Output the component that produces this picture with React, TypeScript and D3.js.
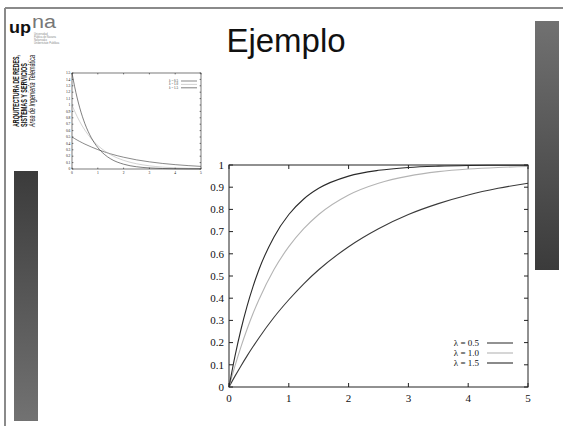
import { useEffect, useRef } from "react";
import * as d3 from "d3";

// values
const xSamples = [0, 0.1, 0.2, 0.3, 0.4, 0.5, 0.75, 1, 1.25, 1.5, 2, 2.5, 3, 3.5, 4, 4.5, 5];

// main chart (distribution curves)
const cdf05 = [0, 0.049, 0.095, 0.139, 0.181, 0.221, 0.313, 0.393, 0.465, 0.528, 0.632, 0.713, 0.777, 0.826, 0.865, 0.895, 0.918];
const cdf10 = [0, 0.095, 0.181, 0.259, 0.33, 0.393, 0.528, 0.632, 0.713, 0.777, 0.865, 0.918, 0.95, 0.97, 0.982, 0.989, 0.993];
const cdf15 = [0, 0.139, 0.259, 0.362, 0.451, 0.528, 0.675, 0.777, 0.847, 0.895, 0.95, 0.976, 0.989, 0.995, 0.998, 0.999, 0.999];

// small inset chart (density curves)
const pdf05 = [0.5, 0.476, 0.452, 0.43, 0.409, 0.389, 0.344, 0.303, 0.268, 0.236, 0.184, 0.143, 0.112, 0.087, 0.068, 0.053, 0.041];
const pdf10 = [1, 0.905, 0.819, 0.741, 0.67, 0.607, 0.472, 0.368, 0.287, 0.223, 0.135, 0.082, 0.05, 0.03, 0.018, 0.011, 0.007];
const pdf15 = [1.5, 1.291, 1.111, 0.956, 0.823, 0.708, 0.487, 0.335, 0.23, 0.158, 0.075, 0.035, 0.017, 0.008, 0.004, 0.002, 0.001];

const seriesLabels = ["λ = 0.5", "λ = 1.0", "λ = 1.5"];
const seriesColors = ["#3a3a3a", "#b4b4b4", "#2a2a2a"];

const xTicks = [0, 1, 2, 3, 4, 5];
const yTicksMain = [0, 0.1, 0.2, 0.3, 0.4, 0.5, 0.6, 0.7, 0.8, 0.9, 1];
const yTicksInset = [0, 0.1, 0.2, 0.3, 0.4, 0.5, 0.6, 0.7, 0.8, 0.9, 1, 1.1, 1.2, 1.3, 1.4, 1.5];

const titleText = "Ejemplo";
const sideText = ["ARQUITECTURA DE REDES,", "SISTEMAS Y SERVICIOS", "Área de Ingeniería Telemática"];
const logoSmall = ["Universidad", "Pública de Navarra", "Nafarroako", "Unibertsitate Publikoa"];

function drawPlot(g, box, yMax, yTicks, series, opts) {
  const x = d3.scaleLinear().domain([0, 5]).range([box.left, box.right]);
  const y = d3.scaleLinear().domain([0, yMax]).range([box.bottom, box.top]);
  const t = opts.tick;

  g.append("rect")
    .attr("x", box.left).attr("y", box.top)
    .attr("width", box.right - box.left).attr("height", box.bottom - box.top)
    .attr("fill", "#fff");

  const ticks = g.append("g").attr("stroke", "#222").attr("stroke-width", opts.sw);
  yTicks.forEach((v) => {
    ticks.append("line").attr("x1", box.left).attr("x2", box.left + t).attr("y1", y(v)).attr("y2", y(v));
    ticks.append("line").attr("x1", box.right).attr("x2", box.right - t).attr("y1", y(v)).attr("y2", y(v));
  });
  xTicks.forEach((v) => {
    ticks.append("line").attr("x1", x(v)).attr("x2", x(v)).attr("y1", box.bottom).attr("y2", box.bottom - t);
    ticks.append("line").attr("x1", x(v)).attr("x2", x(v)).attr("y1", box.top).attr("y2", box.top + t);
  });

  const labels = g.append("g")
    .attr("font-family", "Liberation Serif, serif")
    .attr("font-size", opts.fs)
    .attr("fill", "#111");
  yTicks.forEach((v) => {
    labels.append("text").attr("x", box.left - opts.fs * 0.45).attr("y", y(v))
      .attr("dy", "0.35em").attr("text-anchor", "end").text(String(v));
  });
  xTicks.forEach((v) => {
    labels.append("text").attr("x", x(v)).attr("y", box.bottom + opts.fs * 1.4)
      .attr("text-anchor", "middle").text(String(v));
  });

  const line = d3.line()
    .x((d, i) => x(xSamples[i]))
    .y((d) => y(d))
    .curve(d3.curveMonotoneX);

  series.forEach((s, i) => {
    g.append("path").attr("d", line(s)).attr("fill", "none")
      .attr("stroke", seriesColors[i]).attr("stroke-width", opts.lw);
  });

  g.append("rect")
    .attr("x", box.left).attr("y", box.top)
    .attr("width", box.right - box.left).attr("height", box.bottom - box.top)
    .attr("fill", "none").attr("stroke", "#222").attr("stroke-width", opts.sw);

  // legend, bottom/top right like gnuplot's key
  const leg = opts.legend;
  seriesLabels.forEach((lab, i) => {
    const yy = leg.y + i * leg.step;
    g.append("text").attr("x", leg.textX).attr("y", yy).attr("dy", "0.33em")
      .attr("font-family", "Liberation Serif, serif").attr("font-size", leg.fs).attr("fill", "#111")
      .attr("text-anchor", "end").text(lab);
    g.append("line").attr("x1", leg.x1).attr("x2", leg.x2).attr("y1", yy).attr("y2", yy)
      .attr("stroke", seriesColors[i]).attr("stroke-width", opts.lw);
  });
}

const App = () => {
  const ref = useRef(null);

  useEffect(() => {
    const svg = d3.select(ref.current);
    svg.selectAll("*").remove();

    const defs = svg.append("defs");
    const gr = defs.append("linearGradient").attr("id", "gRight").attr("x1", 0).attr("y1", 0).attr("x2", 0).attr("y2", 1);
    gr.append("stop").attr("offset", 0).attr("stop-color", "#717171");
    gr.append("stop").attr("offset", 1).attr("stop-color", "#3b3b3b");
    const gl = defs.append("linearGradient").attr("id", "gLeft").attr("x1", 0).attr("y1", 0).attr("x2", 0).attr("y2", 1);
    gl.append("stop").attr("offset", 0).attr("stop-color", "#3b3b3b");
    gl.append("stop").attr("offset", 1).attr("stop-color", "#727272");

    svg.append("rect").attr("width", 563).attr("height", 426).attr("fill", "#fff");

    // slide frame
    svg.append("line").attr("x1", 5).attr("x2", 563).attr("y1", 8).attr("y2", 8)
      .attr("stroke", "#8a8a8a").attr("stroke-width", 2);
    svg.append("line").attr("x1", 5).attr("x2", 5).attr("y1", 8).attr("y2", 426)
      .attr("stroke", "#8a8a8a").attr("stroke-width", 2);

    svg.append("rect").attr("x", 535).attr("y", 21).attr("width", 24).attr("height", 249).attr("fill", "url(#gRight)");
    svg.append("rect").attr("x", 14).attr("y", 171).attr("width", 24).attr("height", 250).attr("fill", "url(#gLeft)");

    // logo
    svg.append("text").attr("x", 9).attr("y", 33).attr("font-family", "Liberation Sans, Arial, sans-serif")
      .attr("font-weight", "bold").attr("font-size", 16).attr("fill", "#111")
      .attr("textLength", 22).attr("lengthAdjust", "spacingAndGlyphs").text("up");
    svg.append("text").attr("x", 32).attr("y", 28).attr("font-family", "Liberation Sans, Arial, sans-serif")
      .attr("font-size", 18).attr("fill", "#777")
      .attr("textLength", 24).attr("lengthAdjust", "spacingAndGlyphs").text("na");
    logoSmall.forEach((s, i) => {
      svg.append("text").attr("x", 34).attr("y", 35 + i * 3).attr("font-family", "Liberation Sans, sans-serif")
        .attr("font-size", 2.6).attr("fill", "#888").text(s);
    });

    // vertical side text
    const side = svg.append("g").attr("font-family", "Liberation Sans, Arial, sans-serif").attr("fill", "#111");
    [19, 27, 35].forEach((bx, i) => {
      side.append("text")
        .attr("transform", `translate(${bx},127) rotate(-90)`)
        .attr("font-size", 8.3)
        .attr("font-weight", i < 2 ? "bold" : "normal")
        .attr("font-style", i === 2 ? "italic" : "normal")
        .attr("textLength", i === 0 ? 72 : i === 1 ? 64 : 72)
        .attr("lengthAdjust", "spacingAndGlyphs")
        .text(sideText[i]);
    });

    // title
    svg.append("text").attr("x", 286).attr("y", 52).attr("text-anchor", "middle")
      .attr("font-family", "Liberation Sans, Arial, sans-serif").attr("font-size", 33).attr("fill", "#111")
      .text(titleText);

    // inset chart
    drawPlot(svg.append("g"), { left: 72, right: 201, top: 73, bottom: 169 }, 1.5, yTicksInset,
      [pdf05, pdf10, pdf15],
      {
        tick: 1.4, sw: 0.6, lw: 0.6, fs: 3.6,
        legend: { y: 81, step: 3.4, fs: 3.2, textX: 178, x1: 181, x2: 197 },
      });

    // main chart
    drawPlot(svg.append("g"), { left: 229, right: 528, top: 165, bottom: 387 }, 1, yTicksMain,
      [cdf05, cdf10, cdf15],
      {
        tick: 4, sw: 1, lw: 1.1, fs: 11,
        legend: { y: 343, step: 10, fs: 9, textX: 479, x1: 487, x2: 513 },
      });
  }, []);

  return (
    <svg ref={ref} width={563} height={426} style={{ position: "absolute", left: 0, top: 0 }} />
  );
};

export default App;
